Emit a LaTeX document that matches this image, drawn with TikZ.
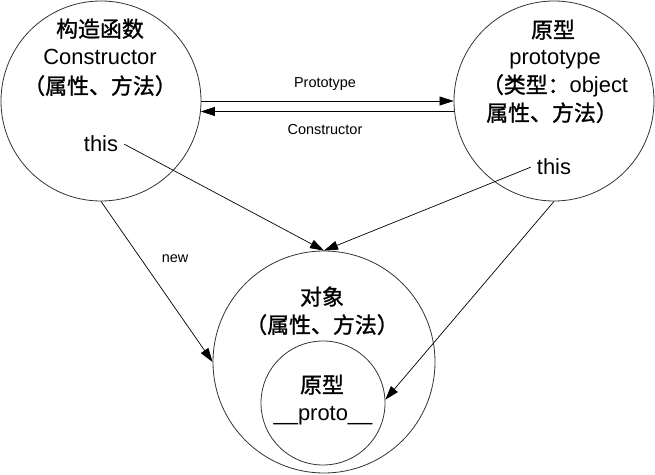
\documentclass[tikz,border=0pt]{standalone}
\usepackage{fontspec}
\setmainfont{Liberation Sans}
\newfontfamily\cjk[FakeBold=1.2]{Noto Sans CJK SC}
\usetikzlibrary{arrows.meta}
\begin{document}
\begin{tikzpicture}[x=1bp,y=-1bp,
  ring/.style={circle,draw=black!80,line width=0.8bp,inner sep=0pt},
  big/.style={font=\fontsize{22}{26}\selectfont,inner sep=0pt,anchor=base},
  thistext/.style={big,inner xsep=6bp},
  small/.style={font=\fontsize{14.5}{17}\selectfont,inner sep=0pt,anchor=base},
  conn/.style={line width=0.7bp,-{Triangle[length=14bp,width=9bp]}}]
\useasboundingbox (0,0) rectangle (655,475);
% circles
\node[ring,minimum size=200bp] (ctor) at (101,101) {};
\node[ring,minimum size=200bp] (proto) at (554,101) {};
\node[ring,minimum size=222bp] (obj) at (324,362) {};
\node[ring,minimum size=124bp] (inner) at (323,403) {};
% left circle text
\node[big] (t1) at (100,37) {\cjk 构造函数};
\node[big] (t2) at (100,65) {Constructor};
\node[big] (t3) at (100,94) {\cjk （属性、方法）};
\node[thistext] (thisL) at (101,152) {this};
% right circle text
\node[big] (r1) at (553,38) {\cjk 原型};
\node[big] (r2) at (555,65) {prototype};
\node[big] (r3) at (555,93) {{\cjk （类型：}object};
\node[big] (r4) at (552,121) {\cjk 属性、方法）};
\node[thistext] (thisR) at (554,175) {this};
% object circle text
\node[big] (o1) at (322,305) {\cjk 对象};
\node[big] (o2) at (322,333) {\cjk （属性、方法）};
\node[big] (i1) at (322,393) {\cjk 原型};
\node[big] (i2) at (323,420) {\_\_proto\_\_};
% labels
\node[small] (lp) at (325,88) {Prototype};
\node[small] (lc) at (325,135) {Constructor};
\node[small] (ln) at (175,263) {new};
% connectors
\draw[conn] (ctor.east) -- (proto.west);
\draw[conn] (proto.186.3) -- (ctor.-6.3);
\draw[conn] (thisL.east) -- (obj.north);
\draw[conn] (thisR.west) -- (obj.north);
\draw[conn] (ctor.south) -- (obj.west);
\draw[conn] (proto.south) -- (inner.3);
\end{tikzpicture}
\end{document}
